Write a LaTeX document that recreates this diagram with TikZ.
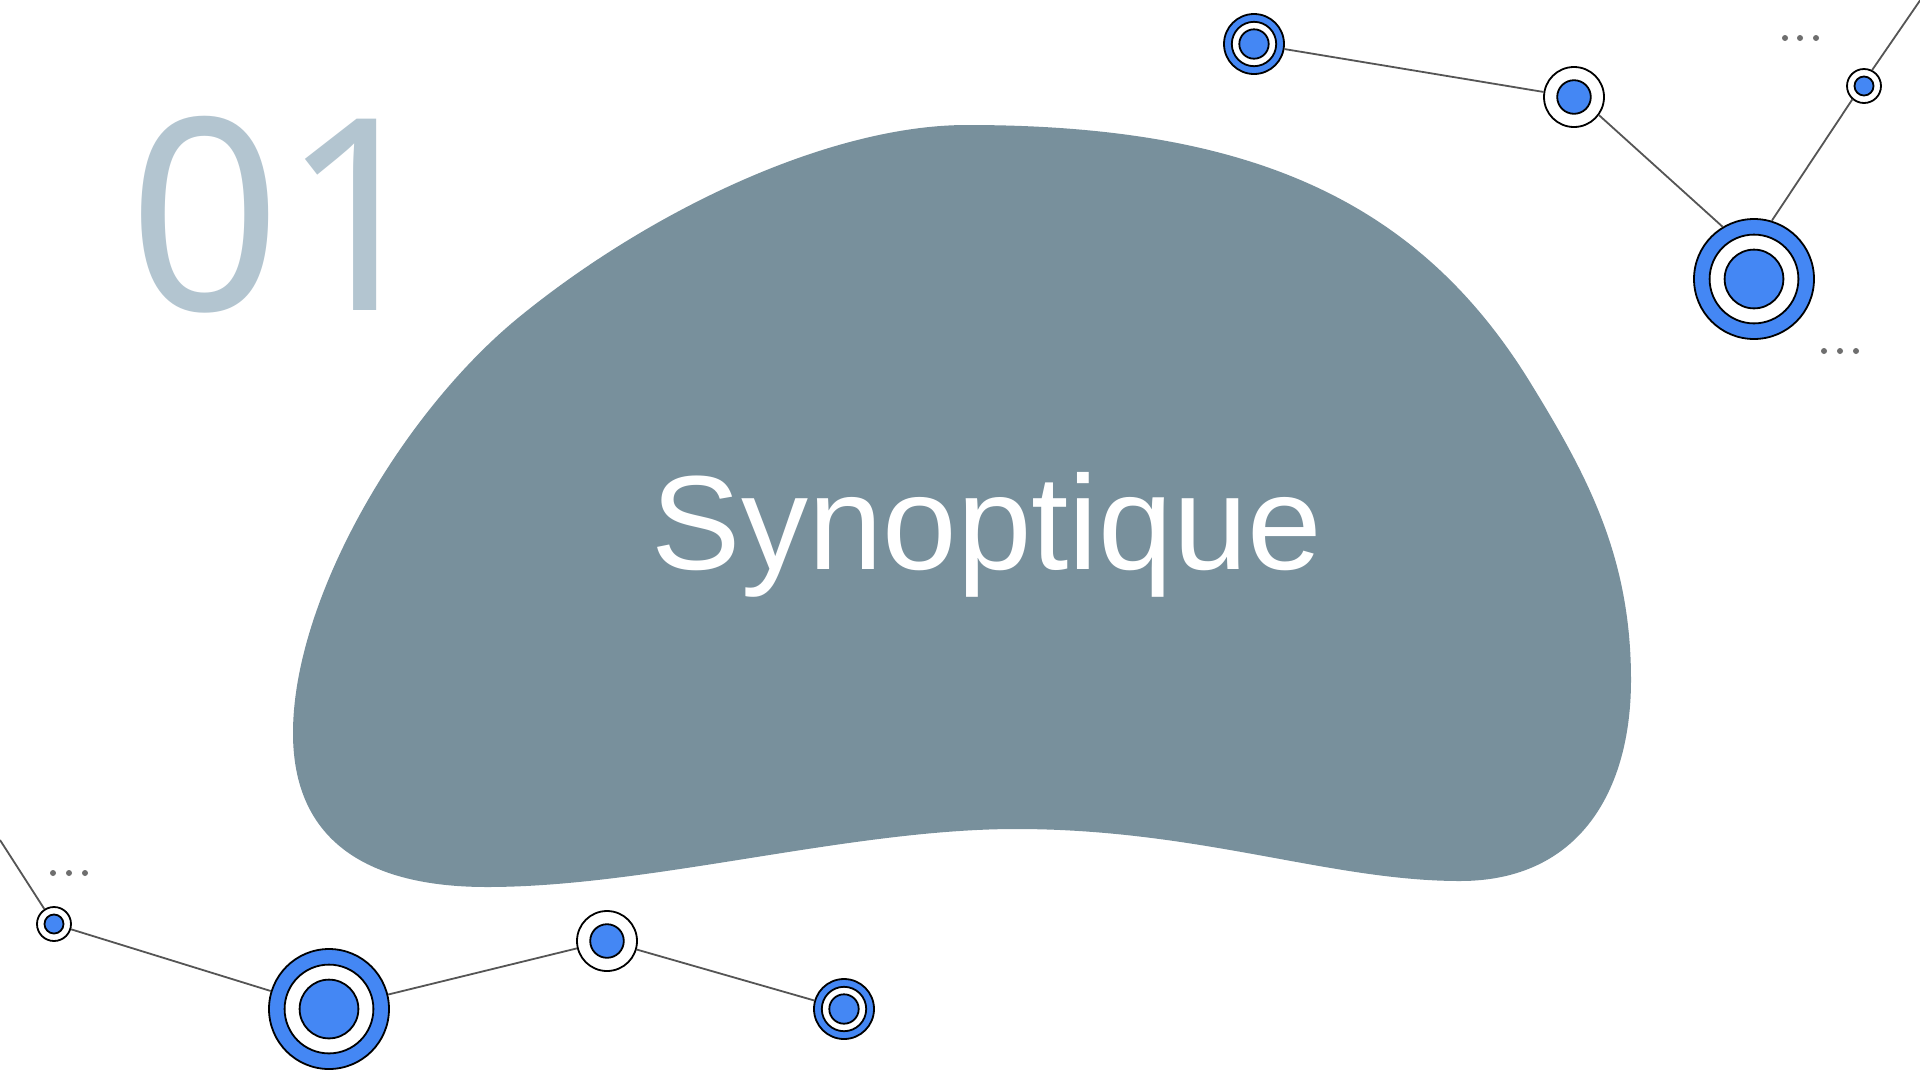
\documentclass[tikz,border=0pt]{standalone}
\usepackage{fontspec}
\setmainfont{Liberation Sans}
\newfontfamily\numfont{Noto Sans}
\usetikzlibrary{calc}
\definecolor{blobgrey}{HTML}{78909C}
\definecolor{numgrey}{HTML}{B3C5D0}
\definecolor{dotblue}{HTML}{4487F4}
\definecolor{linkgrey}{HTML}{555555}
\tikzset{
  disc/.style={circle, draw=black, line width=1.8, fill=#1, inner sep=0},
  link/.style={draw=linkgrey, line width=1.8},
  moredot/.style={fill=linkgrey!85, draw=none},
}
% ring: blue / white / blue
\newcommand{\ringnode}[3]{
  \node[disc=dotblue, minimum size=2*#3] (#1) at (#2) {};
  \node[disc=white, minimum size=1.48*#3] at (#1) {};
  \node[disc=dotblue, minimum size=0.98*#3] at (#1) {};
}
% dot: white / blue
\newcommand{\dotnode}[3]{
  \node[disc=white, minimum size=2*#3] (#1) at (#2) {};
  \node[disc=dotblue, minimum size=1.12*#3] at (#1) {};
}

\begin{document}
\begin{tikzpicture}[x=1pt, y=-1pt]
\useasboundingbox (0,0) rectangle (1920,1080);
\fill[white] (0,0) rectangle (1920,1080);

% blob
\fill[blobgrey] (293,733)
  .. controls (293,850) and (380,887) .. (487,887)
  .. controls (650,887) and (850,829) .. (1016,829)
  .. controls (1200,829) and (1330,881) .. (1460,881)
  .. controls (1580,881) and (1631,790) .. (1631,680)
  .. controls (1631,560) and (1590,480) .. (1533,387)
  .. controls (1420,200) and (1250,125) .. (967,125)
  .. controls (830,125) and (650,210) .. (518,318)
  .. controls (400,415) and (293,600) .. (293,733) -- cycle;

\node[text=white, font=\fontsize{134}{134}\selectfont, anchor=base, inner sep=0] (title) at (987,569) {Synoptique};
\node[text=numgrey, font=\numfont\fontsize{268}{268}\selectfont, anchor=base west, inner sep=0] (num) at (128,310) {01};

% top right network
\ringnode{A}{1254,44}{30}
\dotnode{B}{1574,97}{30}
\ringnode{C}{1754,279}{60}
\dotnode{D}{1864,86}{17}
\coordinate (tr) at (1921,-1);
\draw[link] (A) -- (B);
\draw[link] (B.-36) -- (C.121);
\draw[link] (C.73) -- (D.-131);
\draw[link] (D.63) -- (tr);

% bottom left network
\dotnode{E}{54,924}{17}
\ringnode{F}{329,1009}{60}
\dotnode{G}{607,941}{30}
\ringnode{H}{844,1009}{30}
\coordinate (bl) at (0,840);
\draw[link] (bl) -- (E);
\draw[link] (E) -- (F);
\draw[link] (F) -- (G);
\draw[link] (G) -- (H);

% dots
\foreach \x in {1785,1800,1816} \fill[moredot] (\x,38) circle (3);
\foreach \x in {1824,1840,1856} \fill[moredot] (\x,351) circle (3);
\foreach \x in {53,69,85} \fill[moredot] (\x,873) circle (3);
\end{tikzpicture}
\end{document}
